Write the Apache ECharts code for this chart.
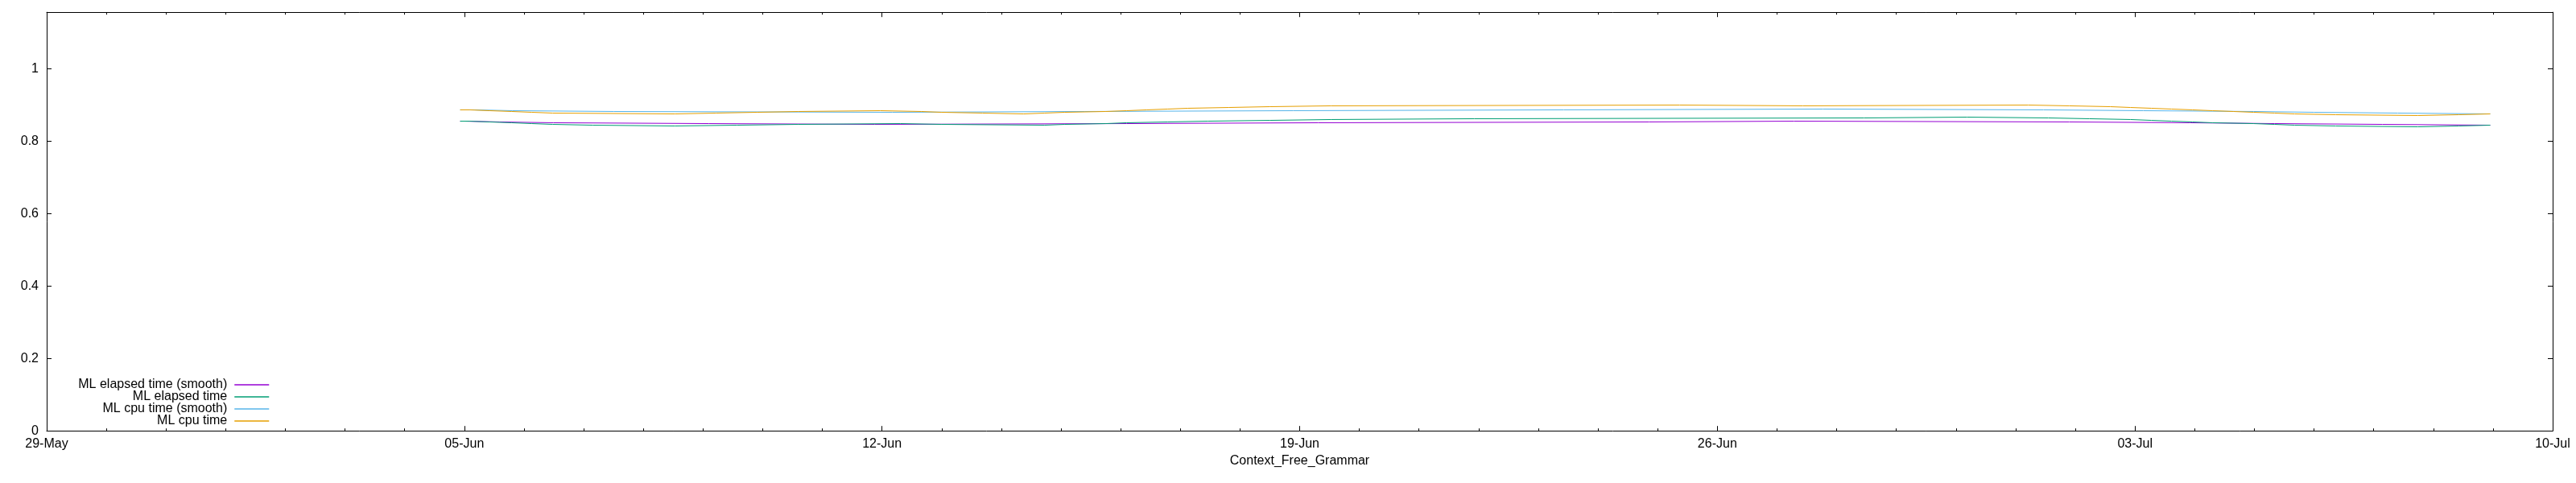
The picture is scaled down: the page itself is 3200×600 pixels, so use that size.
<!DOCTYPE html>
<html>
<head>
<meta charset="utf-8">
<script src="https://cdn.jsdelivr.net/npm/echarts@6/dist/echarts.min.js"></script>
<style>html,body{margin:0;padding:0;background:#fff}#c{width:3200px;height:600px}</style>
</head>
<body>
<div id="c"></div>
<script>
// ---------- data ----------
const startDate = '2023-05-29 00:00';
const tickLabels = ['29-May', '05-Jun', '12-Jun', '19-Jun', '26-Jun', '03-Jul', '10-Jul'];
const xAxisTitle = 'Context_Free_Grammar';
const seriesNames = ['ML elapsed time (smooth)', 'ML elapsed time', 'ML cpu time (smooth)', 'ML cpu time'];
const seriesColors = ['#9400d3', '#009e73', '#56b4e9', '#e69f00'];

const elapsedSmoothTimes = ['2023-06-04 22:19', '2023-06-04 23:48', '2023-06-05 14:13', '2023-06-06 11:53', '2023-06-09 02:22',
  '2023-06-11 21:04', '2023-06-16 02:25', '2023-06-19 07:30', '2023-06-24 20:34', '2023-06-27 06:50', '2023-07-01 21:34',
  '2023-07-03 22:08', '2023-07-05 08:08', '2023-07-07 03:30', '2023-07-08 22:54'];
const elapsedSmoothValues = [0.8552, 0.8530, 0.8508, 0.8485, 0.8463,
  0.8485, 0.8508, 0.8530, 0.8552, 0.8530, 0.8508,
  0.8485, 0.8463, 0.8441, 0.8441];

const elapsedTimes = ['2023-06-04 22:19', '2023-06-05 02:04', '2023-06-05 10:09', '2023-06-05 19:03', '2023-06-06 03:08',
  '2023-06-06 11:34', '2023-06-07 03:45', '2023-06-08 12:40', '2023-06-09 13:42', '2023-06-10 14:20', '2023-06-12 07:26',
  '2023-06-13 00:00', '2023-06-14 17:27', '2023-06-15 01:32', '2023-06-15 18:03', '2023-06-16 02:25', '2023-06-16 18:59',
  '2023-06-17 11:10', '2023-06-18 12:06', '2023-06-19 12:42', '2023-06-21 22:19', '2023-06-28 11:01', '2023-06-30 04:28',
  '2023-07-01 13:09', '2023-07-02 05:40', '2023-07-02 22:11', '2023-07-03 06:36', '2023-07-03 14:41', '2023-07-03 23:07',
  '2023-07-04 07:12', '2023-07-04 23:43', '2023-07-05 08:08', '2023-07-05 16:13', '2023-07-06 08:44', '2023-07-07 17:46',
  '2023-07-08 10:16', '2023-07-08 22:54'];
const elapsedValues = [0.8552, 0.8530, 0.8508, 0.8485, 0.8463,
  0.8441, 0.8419, 0.8441, 0.8463, 0.8485, 0.8463,
  0.8441, 0.8463, 0.8485, 0.8508, 0.8530, 0.8552,
  0.8574, 0.8597, 0.8619, 0.8641, 0.8663, 0.8641,
  0.8619, 0.8597, 0.8574, 0.8552, 0.8530, 0.8508,
  0.8485, 0.8463, 0.8441, 0.8419, 0.8396, 0.8419,
  0.8441, 0.8441];

const cpuSmoothTimes = ['2023-06-04 22:19', '2023-06-05 04:00', '2023-06-05 19:22', '2023-06-07 12:10', '2023-06-12 04:12',
  '2023-06-15 09:38', '2023-06-18 21:29', '2023-06-23 10:15', '2023-06-27 18:30', '2023-07-01 11:13', '2023-07-03 03:22',
  '2023-07-04 23:43', '2023-07-05 23:59', '2023-07-07 09:40', '2023-07-08 22:54'];
const cpuSmoothValues = [0.8864, 0.8841, 0.8819, 0.8797, 0.8819,
  0.8841, 0.8864, 0.8886, 0.8864, 0.8841, 0.8819,
  0.8797, 0.8775, 0.8752, 0.8752];

const cpuTimes = ['2023-06-04 22:19', '2023-06-05 02:04', '2023-06-05 10:09', '2023-06-05 19:03', '2023-06-06 03:08',
  '2023-06-06 11:34', '2023-06-08 12:40', '2023-06-09 05:11', '2023-06-09 21:49', '2023-06-10 14:20', '2023-06-11 23:20',
  '2023-06-12 15:52', '2023-06-13 00:00', '2023-06-13 16:30', '2023-06-14 09:02', '2023-06-14 17:27', '2023-06-15 01:32',
  '2023-06-15 18:03', '2023-06-16 02:25', '2023-06-16 10:34', '2023-06-16 18:59', '2023-06-17 03:04', '2023-06-17 19:35',
  '2023-06-18 12:06', '2023-06-19 12:42', '2023-06-25 08:53', '2023-06-27 10:25', '2023-07-01 05:04', '2023-07-01 21:34',
  '2023-07-02 14:05', '2023-07-02 22:11', '2023-07-03 06:36', '2023-07-03 14:41', '2023-07-03 23:07', '2023-07-04 07:12',
  '2023-07-04 15:37', '2023-07-04 23:43', '2023-07-05 08:08', '2023-07-05 16:13', '2023-07-06 08:44', '2023-07-07 17:46',
  '2023-07-08 10:16', '2023-07-08 22:54'];
const cpuValues = [0.8864, 0.8841, 0.8819, 0.8797, 0.8775,
  0.8752, 0.8775, 0.8797, 0.8819, 0.8841, 0.8819,
  0.8797, 0.8775, 0.8752, 0.8775, 0.8797, 0.8819,
  0.8841, 0.8864, 0.8886, 0.8908, 0.8930, 0.8952,
  0.8975, 0.8997, 0.8975, 0.8997, 0.8975, 0.8952,
  0.8930, 0.8908, 0.8886, 0.8864, 0.8841, 0.8819,
  0.8797, 0.8775, 0.8752, 0.8730, 0.8708, 0.8730,
  0.8752, 0.8752];

const yMax = 1.156;
const yTickStep = 0.2;
const xDays = 42;
const xTickStep = 7;

// ---------- build ----------
function toMs(s) { return Date.parse(s.replace(' ', 'T') + ':00Z'); }
const t0 = toMs(startDate);
function toDays(s) { return (toMs(s) - t0) / 86400000; }
function pairs(times, values) { return times.map((t, i) => [toDays(t), values[i]]); }

const seriesData = [
  pairs(elapsedSmoothTimes, elapsedSmoothValues),
  pairs(elapsedTimes, elapsedValues),
  pairs(cpuSmoothTimes, cpuSmoothValues),
  pairs(cpuTimes, cpuValues)
];

const FONT = 'Liberation Sans';
const black = '#000000';

const chart = echarts.init(document.getElementById('c'), null, { renderer: 'canvas' });

const baseX = {
  type: 'value', min: 0, max: xDays, interval: xTickStep,
  axisLine: { show: true, onZero: false, lineStyle: { color: black, width: 1 } },
  axisTick: { show: true, inside: true, length: 6, lineStyle: { color: black, width: 1 } },
  minorTick: { show: true, splitNumber: 7, length: 3, lineStyle: { color: black, width: 1 } },
  splitLine: { show: false }, minorSplitLine: { show: false }
};
const baseY = {
  type: 'value', min: 0, max: yMax, interval: yTickStep,
  axisLine: { show: true, onZero: false, lineStyle: { color: black, width: 1 } },
  axisTick: { show: true, inside: true, length: 6, lineStyle: { color: black, width: 1 } },
  splitLine: { show: false }
};

const legendTops = [470, 485, 500, 515];

const option = {
  animation: false,
  backgroundColor: '#ffffff',
  textStyle: { fontFamily: FONT },
  grid: { left: 58, top: 15.2, width: 3113, height: 520, containLabel: false, outerBoundsMode: 'none' },
  xAxis: [
    Object.assign({}, baseX, {
      position: 'bottom',
      axisLabel: { show: true, margin: 8, fontSize: 16, color: black, fontFamily: FONT,
        formatter: v => tickLabels[Math.round(v / xTickStep)] || '' },
      name: xAxisTitle, nameLocation: 'middle', nameGap: 29,
      nameTextStyle: { fontSize: 16, color: black, fontFamily: FONT }
    }),
    Object.assign({}, baseX, { position: 'top', axisLabel: { show: false } })
  ],
  yAxis: [
    Object.assign({}, baseY, {
      position: 'left',
      axisLabel: { show: true, margin: 10, fontSize: 16, color: black, fontFamily: FONT,
        formatter: v => (Math.abs(v / yTickStep - Math.round(v / yTickStep)) < 1e-6) ? String(+v.toFixed(1)) : '' }
    }),
    Object.assign({}, baseY, { position: 'right', axisLabel: { show: false } })
  ],
  legend: seriesNames.map((n, i) => ({
    data: [n], orient: 'vertical', align: 'right', right: 2865, top: legendTops[i],
    padding: 0, itemWidth: 43, itemHeight: 14, selectedMode: false,
    itemStyle: { opacity: 0 },
    lineStyle: { color: seriesColors[i], width: 1.5 },
    textStyle: { fontFamily: FONT, fontSize: 16, color: black, padding: [0, 4, 0, 0] }
  })),
  series: seriesNames.map((n, i) => ({
    type: 'line', name: n, data: seriesData[i], xAxisIndex: 0, yAxisIndex: 0,
    step: 'end', symbol: 'none', showSymbol: false, silent: true,
    lineStyle: { width: 1, color: seriesColors[i] }, itemStyle: { color: seriesColors[i] }
  }))
};
chart.setOption(option);
</script>
</body>
</html>
